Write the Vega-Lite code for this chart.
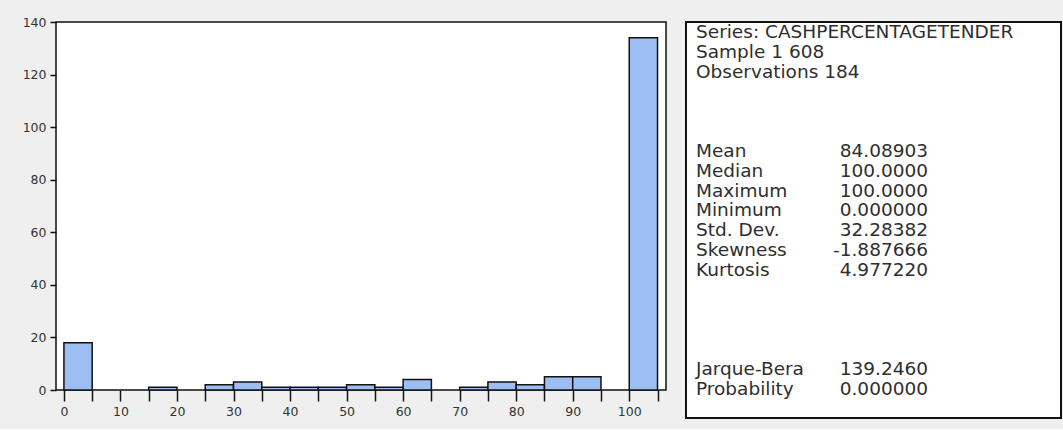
{
  "$schema": "https://vega.github.io/schema/vega-lite/v6.json",
  "background": "#efefef",
  "padding": {"left": 21, "top": 15, "right": 5, "bottom": 10},
  "spacing": 20,
  "bounds": "flush",
  "config": {
    "font": "DejaVu Sans",
    "axis": {
      "labelFont": "DejaVu Sans",
      "labelFontSize": 12.5,
      "labelColor": "#333333",
      "tickColor": "#111111",
      "tickWidth": 1.5,
      "domain": false,
      "grid": false,
      "title": null
    }
  },
  "hconcat": [
    {
      "width": 610,
      "height": 368,
      "view": {"fill": "white", "stroke": "#111111", "strokeWidth": 1.5},
      "data": {
        "values": [
          {"bin_start": 0, "bin_end": 5, "count": 18},
          {"bin_start": 15, "bin_end": 20, "count": 1},
          {"bin_start": 25, "bin_end": 30, "count": 2},
          {"bin_start": 30, "bin_end": 35, "count": 3},
          {"bin_start": 35, "bin_end": 40, "count": 1},
          {"bin_start": 40, "bin_end": 45, "count": 1},
          {"bin_start": 45, "bin_end": 50, "count": 1},
          {"bin_start": 50, "bin_end": 55, "count": 2},
          {"bin_start": 55, "bin_end": 60, "count": 1},
          {"bin_start": 60, "bin_end": 65, "count": 4},
          {"bin_start": 70, "bin_end": 75, "count": 1},
          {"bin_start": 75, "bin_end": 80, "count": 3},
          {"bin_start": 80, "bin_end": 85, "count": 2},
          {"bin_start": 85, "bin_end": 90, "count": 5},
          {"bin_start": 90, "bin_end": 95, "count": 5},
          {"bin_start": 100, "bin_end": 105, "count": 134}
        ]
      },
      "mark": {"type": "rect", "fill": "#9dbef2", "stroke": "#111111", "strokeWidth": 1.5},
      "encoding": {
        "x": {
          "field": "bin_start",
          "type": "quantitative",
          "scale": {"domain": [-1.4, 106.5], "nice": false, "zero": false},
          "axis": {
            "values": [0, 5, 10, 15, 20, 25, 30, 35, 40, 45, 50, 55, 60, 65, 70, 75, 80, 85, 90, 95, 100, 105],
            "labelExpr": "datum.value % 10 === 0 ? datum.label : ''",
            "tickSize": 11,
            "labelPadding": 4,
            "labelOverlap": false,
            "labelFlush": false
          }
        },
        "x2": {"field": "bin_end"},
        "y": {
          "field": "count",
          "type": "quantitative",
          "scale": {"domain": [0, 140], "nice": false},
          "axis": {
            "values": [0, 20, 40, 60, 80, 100, 120, 140],
            "tickSize": 6,
            "labelPadding": 4,
            "labelFlush": false,
            "labelOverlap": false
          }
        },
        "y2": {"datum": 0}
      }
    },
    {
      "width": 375,
      "height": 396,
      "view": {"fill": "white", "stroke": "#111111", "strokeWidth": 2},
      "data": {
        "values": [
          {"row": 0, "label": "Series: CASHPERCENTAGETENDER", "value": ""},
          {"row": 1, "label": "Sample 1 608", "value": ""},
          {"row": 2, "label": "Observations 184", "value": ""},
          {"row": 6, "label": "Mean", "value": "84.08903"},
          {"row": 7, "label": "Median", "value": "100.0000"},
          {"row": 8, "label": "Maximum", "value": "100.0000"},
          {"row": 9, "label": "Minimum", "value": "0.000000"},
          {"row": 10, "label": "Std. Dev.", "value": "32.28382"},
          {"row": 11, "label": "Skewness", "value": "-1.887666"},
          {"row": 12, "label": "Kurtosis", "value": "4.977220"},
          {"row": 17, "label": "Jarque-Bera", "value": "139.2460"},
          {"row": 18, "label": "Probability", "value": "0.000000"}
        ]
      },
      "encoding": {
        "y": {
          "field": "row",
          "type": "quantitative",
          "scale": {"domain": [-0.52, 19.48], "reverse": true, "nice": false, "zero": false},
          "axis": null
        }
      },
      "layer": [
        {
          "mark": {"type": "text", "align": "left", "baseline": "middle", "font": "DejaVu Sans", "fontSize": 18.5, "color": "#2e2e2e"},
          "encoding": {
            "x": {
              "datum": "label",
              "type": "nominal",
              "scale": {"type": "point", "domain": ["label", "value"], "range": [10, 242], "padding": 0},
              "axis": null
            },
            "text": {"field": "label"}
          }
        },
        {
          "mark": {"type": "text", "align": "right", "baseline": "middle", "font": "DejaVu Sans", "fontSize": 18.5, "color": "#2e2e2e"},
          "encoding": {
            "x": {"datum": "value", "type": "nominal"},
            "text": {"field": "value"}
          }
        }
      ]
    }
  ]
}
